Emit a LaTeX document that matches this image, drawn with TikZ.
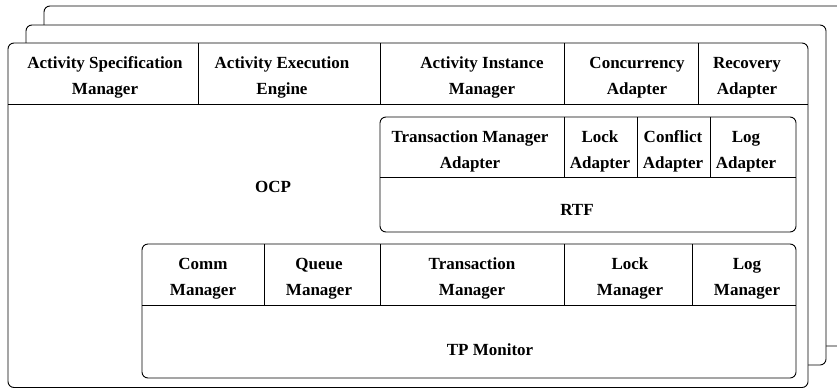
\documentclass[tikz,border=0pt]{standalone}
\usepackage{fontspec}
\setmainfont{Liberation Serif}
\usetikzlibrary{positioning}
\tikzset{
  frm/.style ={draw, rounded corners=6pt, fill=white, line width=0.9pt},
  sep/.style ={line width=0.9pt},
  cell/.style={align=center, inner sep=0pt, text height=13pt, text depth=5pt,
               font=\fontsize{17}{26}\selectfont\bfseries},
}

\begin{document}
\begin{tikzpicture}[x=1pt, y=-1pt]
  \useasboundingbox (0,0) rectangle (837,389);
  \clip (0,0) rectangle (837,389);
  % stacked copies behind
  \draw[frm] (44,6) rectangle (870,346);
  \draw[frm] (26,25) rectangle (826,365);
  % front layer (OCP)
  \draw[frm] (8,43) rectangle (808,387.5);
  \draw[sep] (8,104) -- (808,104);
  \foreach \x in {198,380,564,698}
    \draw[sep] (\x,43) -- (\x,104);
  \node[cell] (asm) at (105,90) {Activity Specification\\Manager};
  \node[cell] (aee) at (282,90) {Activity Execution\\Engine};
  \node[cell] (aim) at (482,90) {Activity Instance\\Manager};
  \node[cell] (ca)  at (637,90) {Concurrency\\Adapter};
  \node[cell] (ra)  at (747,90) {Recovery\\Adapter};
  \node[cell] (ocp) at (273,188) {OCP};
  % RTF
  \draw[frm] (380,117) rectangle (796,232);
  \draw[sep] (380,177) -- (796,177);
  \foreach \x in {564,637,710}
    \draw[sep] (\x,117) -- (\x,177);
  \node[cell] (tma) at (470,164) {Transaction Manager\\Adapter};
  \node[cell] (la)  at (600,164) {Lock\\Adapter};
  \node[cell] (cfa) at (673,164) {Conflict\\Adapter};
  \node[cell] (loa) at (746,164) {Log\\Adapter};
  \node[cell] (rtf) at (577,211) {RTF};
  % TP monitor
  \draw[frm] (142,244) rectangle (796,378);
  \draw[sep] (142,305) -- (796,305);
  \foreach \x in {264,380,564,692}
    \draw[sep] (\x,244) -- (\x,305);
  \node[cell] (cm)  at (203,291) {Comm\\Manager};
  \node[cell] (qm)  at (319,291) {Queue\\Manager};
  \node[cell] (tm)  at (472,291) {Transaction\\Manager};
  \node[cell] (lm)  at (630,291) {Lock\\Manager};
  \node[cell] (lgm) at (747,291) {Log\\Manager};
  \node[cell] (tpm) at (490,351) {TP Monitor};
\end{tikzpicture}
\end{document}
